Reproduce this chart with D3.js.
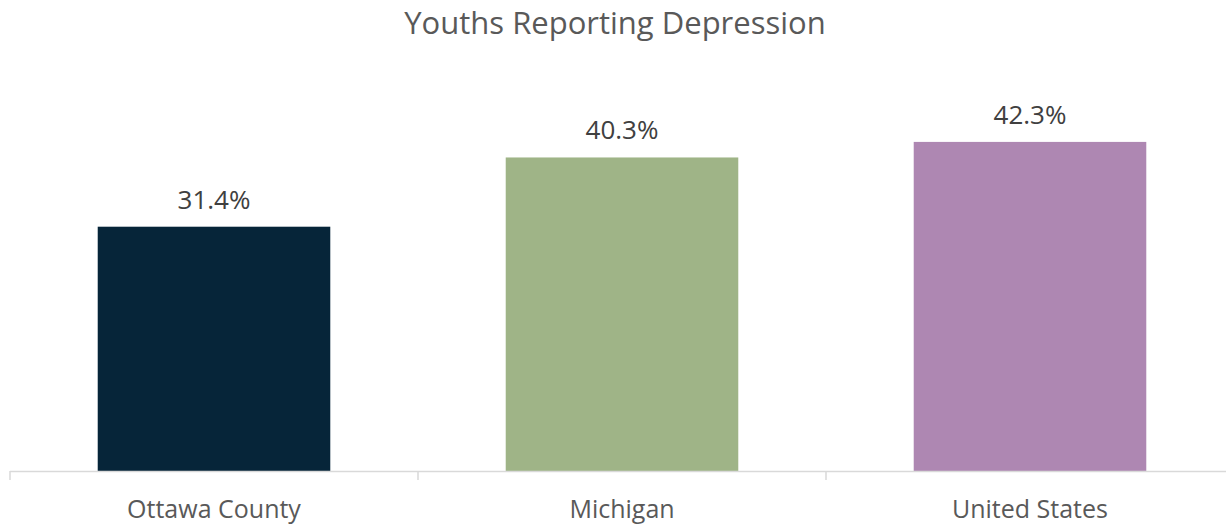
<!DOCTYPE html>
<html>
<head>
<meta charset="utf-8">
<script src="https://cdn.jsdelivr.net/npm/d3@7"></script>
<style>
  body { margin: 0; background: #fff; }
  text { font-family: "Open Sans", sans-serif; }
</style>
</head>
<body>
<div id="chart"></div>
<script>
var categories = ['Ottawa County', 'Michigan', 'United States'];
var values = [31.4, 40.3, 42.3];
var barColors = ['#062539', '#9fb487', '#ae87b2'];
var yDomain = [0, 50];

var width = 1226, height = 527;

var svg = d3.select("#chart").append("svg")
    .attr("width", width)
    .attr("height", height);

var x = d3.scaleBand()
    .domain(categories)
    .range([10, 1234])
    .paddingInner(0.43)
    .paddingOuter(0.215);

var y = d3.scaleLinear()
    .domain(yDomain)
    .range([471, 82]);

// title
svg.append("text")
    .attr("x", 615)
    .attr("y", 34)
    .attr("text-anchor", "middle")
    .style("font-size", "31px")
    .attr("fill", "#595959")
    .text("Youths Reporting Depression");

// bars
svg.selectAll(".bar")
    .data(values)
    .enter().append("rect")
    .attr("class", "bar")
    .attr("x", function (d, i) { return x(categories[i]); })
    .attr("width", x.bandwidth())
    .attr("y", function (d) { return y(d); })
    .attr("height", function (d) { return y(0) - y(d); })
    .attr("fill", function (d, i) { return barColors[i]; });

// value labels
svg.selectAll(".val")
    .data(values)
    .enter().append("text")
    .attr("class", "val")
    .attr("x", function (d, i) { return x(categories[i]) + x.bandwidth() / 2; })
    .attr("y", function (d) { return y(d) - 18; })
    .attr("text-anchor", "middle")
    .style("font-size", "26px")
    .attr("fill", "#404040")
    .text(function (d) { return d.toFixed(1) + "%"; });

// x axis
var gap = (x.step() - x.bandwidth()) / 2;
var axis = svg.append("g").attr("class", "x axis");
axis.append("line")
    .attr("x1", 10).attr("x2", width)
    .attr("y1", y(0) + 0.5).attr("y2", y(0) + 0.5)
    .attr("stroke", "#d9d9d9")
    .attr("stroke-width", 1.5);

axis.selectAll(".tick")
    .data(categories)
    .enter().append("line")
    .attr("class", "tick")
    .attr("x1", function (d) { return x(d) - gap; })
    .attr("x2", function (d) { return x(d) - gap; })
    .attr("y1", y(0))
    .attr("y2", y(0) + 9)
    .attr("stroke", "#d9d9d9")
    .attr("stroke-width", 1.5);

axis.selectAll(".cat")
    .data(categories)
    .enter().append("text")
    .attr("class", "cat")
    .attr("x", function (d) { return x(d) + x.bandwidth() / 2; })
    .attr("y", 518)
    .attr("text-anchor", "middle")
    .style("font-size", "25px")
    .attr("fill", "#595959")
    .text(function (d) { return d; });
</script>
</body>
</html>
